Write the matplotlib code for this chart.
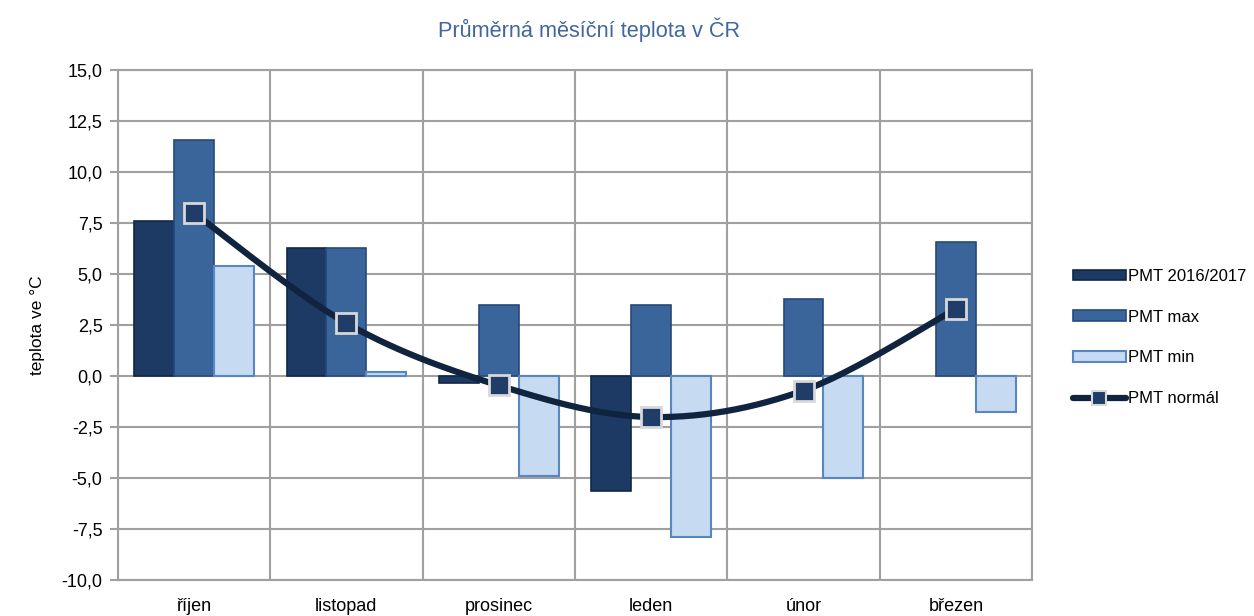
import numpy as np
import matplotlib.pyplot as plt
from matplotlib.ticker import FuncFormatter, FixedLocator

plt.rcParams['font.family'] = ['Liberation Sans', 'DejaVu Sans']

# data
months = ['říjen', 'listopad', 'prosinec', 'leden', 'únor', 'březen']
pmt_2016 = [7.6, 6.3, -0.35, -5.6, np.nan, np.nan]
pmt_max = [11.6, 6.3, 3.5, 3.5, 3.8, 6.6]
pmt_min = [5.4, 0.2, -4.9, -7.9, -5.0, -1.75]
pmt_normal = [8.0, 2.6, -0.45, -2.0, -0.7, 3.3]


def smooth(x, y, n=30, t=0.5):
    # cardinal spline, like Excel's smoothed line
    x = np.asarray(x, float); y = np.asarray(y, float)
    px = np.r_[x[0], x, x[-1]]; py = np.r_[y[0], y, y[-1]]
    xs, ys = [], []
    for i in range(1, len(px) - 2):
        s = np.linspace(0, 1, n)
        m0x = t * (px[i + 1] - px[i - 1]); m0y = t * (py[i + 1] - py[i - 1])
        m1x = t * (px[i + 2] - px[i]); m1y = t * (py[i + 2] - py[i])
        h00 = 2 * s**3 - 3 * s**2 + 1; h10 = s**3 - 2 * s**2 + s
        h01 = -2 * s**3 + 3 * s**2; h11 = s**3 - s**2
        xs.append(h00 * px[i] + h10 * m0x + h01 * px[i + 1] + h11 * m1x)
        ys.append(h00 * py[i] + h10 * m0y + h01 * py[i + 1] + h11 * m1y)
    return np.concatenate(xs), np.concatenate(ys)


fig = plt.figure(figsize=(12.54, 6.16), dpi=100)
ax = fig.add_axes([0.094, 0.058, 0.729, 0.828])

x = np.arange(len(months))
w = 0.262
c_2016 = '#1d3a64'
c_max = '#3a659a'
c_min = '#c6daf1'

b1 = ax.bar(x - w, pmt_2016, w, color=c_2016, edgecolor='#122846', linewidth=1.2, zorder=3, label='PMT 2016/2017')
b2 = ax.bar(x, pmt_max, w, color=c_max, edgecolor='#27497a', linewidth=1.2, zorder=3, label='PMT max')
b3 = ax.bar(x + w, pmt_min, w, color=c_min, edgecolor='#5a86c0', linewidth=1.5, zorder=3, label='PMT min')

sx, sy = smooth(x, pmt_normal)
ax.plot(sx, sy, color='#10233f', lw=4.5, zorder=4, solid_capstyle='round')
ax.plot(x, pmt_normal, ls='none', marker='s', ms=14, mfc='#1f3d68', mec='#d8d8d8', mew=2, zorder=5)
ln, = ax.plot([], [], color='#10233f', lw=4.5, marker='s', ms=10, mfc='#1f3d68', mec='#d8d8d8', mew=1.5,
              solid_capstyle='round', label='PMT normál')

ax.set_xlim(-0.5, len(months) - 0.5)
ax.set_ylim(-10, 15)
ax.yaxis.set_major_locator(FixedLocator(np.arange(-10, 15.1, 2.5)))
ax.yaxis.set_major_formatter(FuncFormatter(lambda v, p: f'{v:.1f}'.replace('.', ',')))
ax.set_xticks(x)
ax.set_xticklabels(months)
ax.xaxis.set_minor_locator(FixedLocator(np.arange(-0.5, len(months), 1)))
ax.grid(True, which='major', axis='y', color='#a0a0a0', lw=1.5, zorder=0)
ax.grid(True, which='minor', axis='x', color='#a0a0a0', lw=1.5, zorder=0)
for s in ax.spines.values():
    s.set_color('#a0a0a0')
    s.set_linewidth(1.5)
ax.tick_params(axis='y', length=6, width=1.5, color='#a0a0a0', labelsize=13, pad=5)
ax.tick_params(axis='x', which='both', length=0, labelsize=13, pad=13)
ax.set_ylabel('teplota ve °C', fontsize=12.5, labelpad=12)

fig.text(0.47, 0.952, 'Průměrná měsíční teplota v ČR', ha='center', va='center', fontsize=15.7, color='#41679c')

fig.legend(handles=[b1, b2, b3, ln], loc='center left', bbox_to_anchor=(0.850, 0.452), frameon=False,
           fontsize=12, handlelength=3.2, handleheight=0.6, labelspacing=1.55, handletextpad=0.15,
           borderaxespad=0)

fig.savefig('out.png', dpi=100)
